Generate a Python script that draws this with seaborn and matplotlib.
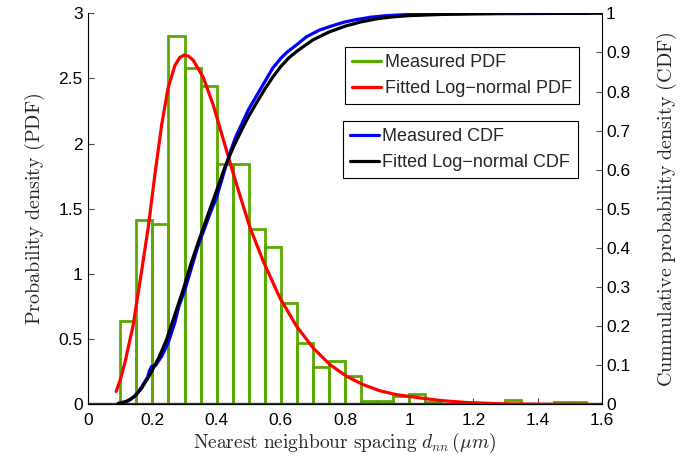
import matplotlib
matplotlib.use('Agg')
import matplotlib.pyplot as plt
from matplotlib.lines import Line2D
from matplotlib.ticker import FuncFormatter
import seaborn as sns

# Measured histogram (density per 0.05 um bin), left edges of the bins
bin_left = [0.10, 0.15, 0.20, 0.25, 0.30, 0.35, 0.40, 0.45, 0.50, 0.55,
            0.60, 0.65, 0.70, 0.75, 0.80, 0.85, 0.90, 0.95, 1.00, 1.05,
            1.10, 1.15, 1.20, 1.25, 1.30, 1.35, 1.40, 1.45, 1.50]
pdf_measured = [0.644, 1.416, 1.383, 2.825, 2.581, 2.443, 1.845, 1.845, 1.345, 1.209,
                0.780, 0.472, 0.287, 0.336, 0.219, 0.030, 0.030, 0.067, 0.081, 0.020,
                0.005, 0.005, 0.0, 0.0, 0.035, 0.0, 0.0, 0.018, 0.018]
bin_width = 0.05

# Fitted log-normal PDF
fit_pdf_x = [0.087, 0.100, 0.115, 0.140, 0.166, 0.187, 0.208, 0.229, 0.249, 0.270,
             0.285, 0.299, 0.313, 0.327, 0.358, 0.389, 0.421, 0.452, 0.473, 0.504,
             0.545, 0.597, 0.649, 0.701, 0.753, 0.805, 0.857, 0.909, 0.961, 1.054,
             1.100, 1.180, 1.280, 1.400, 1.560]
fit_pdf_y = [0.10, 0.19, 0.33, 0.61, 1.02, 1.36, 1.77, 2.15, 2.43, 2.60,
             2.66, 2.68, 2.67, 2.64, 2.51, 2.30, 2.03, 1.77, 1.60, 1.357,
             1.10, 0.818, 0.600, 0.433, 0.306, 0.216, 0.152, 0.105, 0.075, 0.044,
             0.030, 0.015, 0.006, 0.002, 0.0005]

# Measured (empirical) CDF
cdf_meas_x = [0.100, 0.110, 0.130, 0.150, 0.170, 0.185, 0.190, 0.197, 0.210, 0.230,
              0.250, 0.270, 0.282, 0.300, 0.320, 0.340, 0.360, 0.379, 0.400, 0.420,
              0.440, 0.460, 0.480, 0.500, 0.525, 0.550, 0.575, 0.600, 0.620, 0.650,
              0.680, 0.720, 0.760, 0.800, 0.830, 0.880, 0.930, 1.000, 1.100, 1.300, 1.560]
cdf_meas_y = [0.000, 0.005, 0.012, 0.025, 0.050, 0.070, 0.085, 0.097, 0.100, 0.125,
              0.160, 0.210, 0.250, 0.290, 0.345, 0.400, 0.445, 0.487, 0.530, 0.585,
              0.640, 0.685, 0.720, 0.755, 0.790, 0.825, 0.860, 0.885, 0.901, 0.920,
              0.940, 0.957, 0.968, 0.978, 0.983, 0.990, 0.994, 0.997, 0.998, 0.999, 1.000]

# Fitted log-normal CDF
cdf_fit_x = [0.093, 0.120, 0.140, 0.165, 0.192, 0.220, 0.244, 0.270, 0.296, 0.320,
             0.348, 0.375, 0.400, 0.425, 0.452, 0.480, 0.500, 0.525, 0.550, 0.575,
             0.600, 0.625, 0.650, 0.700, 0.750, 0.800, 0.850, 0.900, 0.950, 1.000,
             1.100, 1.200, 1.300, 1.600]
cdf_fit_y = [0.003, 0.008, 0.018, 0.040, 0.076, 0.120, 0.166, 0.230, 0.294, 0.360,
             0.427, 0.490, 0.547, 0.605, 0.658, 0.705, 0.737, 0.772, 0.806, 0.837,
             0.864, 0.886, 0.903, 0.932, 0.952, 0.967, 0.978, 0.986, 0.991, 0.994,
             0.997, 0.999, 1.000, 1.000]

green = '#58aa00'

sns.set_theme(style='white')
plt.rcParams['font.family'] = ['Liberation Sans', 'DejaVu Sans']
plt.rcParams['mathtext.fontset'] = 'cm'

fig = plt.figure(figsize=(6.88, 4.66), dpi=100)
ax = fig.add_axes([0.1283, 0.132, 0.7463, 0.8395])

# histogram outline bars
edges = bin_left + [bin_left[-1] + bin_width]
centers = [b + bin_width / 2 for b in bin_left]
sns.histplot(x=centers, weights=pdf_measured, bins=edges, fill=False,
             color=green, linewidth=2.0, element='bars', ax=ax)
ax.axhline(0.012, color='0.25', lw=1.0, zorder=1)

sns.lineplot(x=fit_pdf_x, y=fit_pdf_y, sort=False, color='#ff0000', lw=2.3, ax=ax)

ax.set_xlim(0, 1.6)
ax.set_ylim(0, 3)
ax.set_xticks([0, 0.2, 0.4, 0.6, 0.8, 1.0, 1.2, 1.4, 1.6])
ax.set_yticks([0, 0.5, 1, 1.5, 2, 2.5, 3])

ax2 = ax.twinx()
sns.lineplot(x=cdf_meas_x, y=cdf_meas_y, sort=False, color='#0000ff', lw=2.3, ax=ax2)
sns.lineplot(x=cdf_fit_x, y=cdf_fit_y, sort=False, color='black', lw=2.3, ax=ax2)
ax2.set_ylim(0, 1)
ax2.set_yticks([0, 0.1, 0.2, 0.3, 0.4, 0.5, 0.6, 0.7, 0.8, 0.9, 1.0])

fmt = FuncFormatter(lambda v, p: '%g' % round(v, 2))
ax.xaxis.set_major_formatter(fmt)
ax.yaxis.set_major_formatter(fmt)
ax2.yaxis.set_major_formatter(fmt)

for a in (ax, ax2):
    a.tick_params(direction='in', length=4, width=0.8, color='0.3',
                  labelsize=12.5, labelcolor='black', pad=4)
    for s in a.spines.values():
        s.set_color('black')
        s.set_linewidth(0.8)
    a.spines['top'].set_visible(False)
ax.spines['right'].set_visible(False)
ax2.spines['left'].set_visible(False)
ax.tick_params(axis='y', left=True, right=False)
ax.tick_params(axis='x', bottom=True, pad=6)
ax2.tick_params(axis='y', right=True, pad=3)

ax.set_xlabel(r'$\mathrm{Nearest\ neighbour\ spacing}\ d_{nn}\,(\mu m)$', fontsize=14, labelpad=2)
ax.set_ylabel(r'$\mathrm{Probability\ density\ (PDF)}$', fontsize=14.5, labelpad=8)
ax2.set_ylabel(r'$\mathrm{Cummulative\ probability\ density\ (CDF)}$', fontsize=14.5, labelpad=18)

leg_kw = dict(fontsize=13, frameon=True, fancybox=False, framealpha=1,
              edgecolor='black', borderpad=0.4, labelspacing=0.5,
              handlelength=1.6, handletextpad=0.2, borderaxespad=0,
              loc='upper left', bbox_transform=fig.transFigure)
h1 = [Line2D([], [], color=green, lw=2.3), Line2D([], [], color='#ff0000', lw=2.3)]
leg1 = ax2.legend(h1, ['Measured PDF', 'Fitted Log\u2212normal PDF'],
                  bbox_to_anchor=(345 / 688, 1 - 46.7 / 466), **leg_kw)
leg1.get_frame().set_linewidth(0.8)
ax2.add_artist(leg1)
h2 = [Line2D([], [], color='#0000ff', lw=2.3), Line2D([], [], color='black', lw=2.3)]
leg2 = ax2.legend(h2, ['Measured CDF', 'Fitted Log\u2212normal CDF'],
                  bbox_to_anchor=(342.7 / 688, 1 - 121 / 466), **leg_kw)
leg2.get_frame().set_linewidth(0.8)

fig.savefig('out.png', dpi=100)
